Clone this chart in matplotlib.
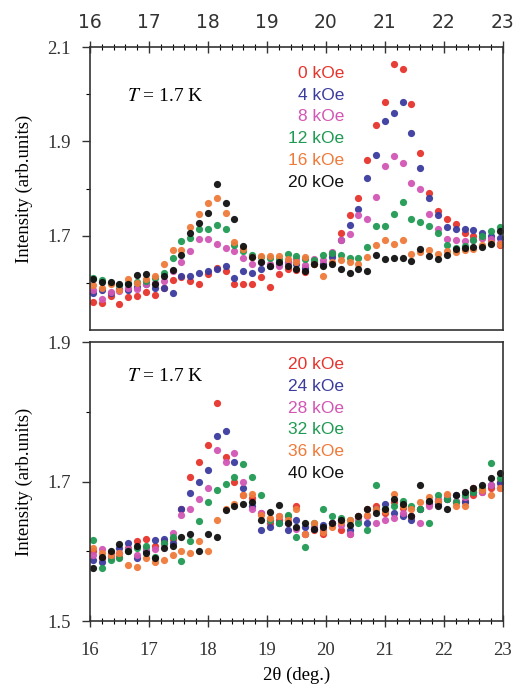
import numpy as np
import matplotlib
matplotlib.use("Agg")
import matplotlib.pyplot as plt
from matplotlib.ticker import MultipleLocator, FixedLocator

plt.rcParams["mathtext.fontset"] = "stix"

# --- data (2theta grid, step 0.15 deg)
two_theta = np.round(16.05 + 0.15 * np.arange(47), 2)

# top panel: 0-20 kOe
top_0 = [1.560, 1.557, 1.572, 1.555, 1.570, 1.572, 1.581, 1.574, 1.590, 1.607,
         1.612, 1.603, 1.597, 1.618, 1.632, 1.625, 1.597, 1.598, 1.598, 1.612,
         1.591, 1.618, 1.630, 1.628, 1.622, 1.640, 1.638, 1.662, 1.705, 1.743,
         1.779, 1.860, 1.934, 1.983, 2.064, 2.053, 1.979, 1.875, 1.790, 1.753,
         1.735, 1.725, 1.705, 1.700, 1.695, 1.690, 1.680]
top_4 = [1.579, 1.585, 1.578, 1.588, 1.585, 1.592, 1.598, 1.590, 1.590, 1.579,
         1.615, 1.615, 1.620, 1.626, 1.630, 1.636, 1.611, 1.626, 1.620, 1.630,
         1.635, 1.640, 1.645, 1.640, 1.632, 1.645, 1.640, 1.655, 1.691, 1.723,
         1.757, 1.823, 1.872, 1.943, 1.960, 1.983, 1.917, 1.843, 1.779, 1.743,
         1.719, 1.715, 1.715, 1.713, 1.705, 1.700, 1.695]
top_8 = [1.585, 1.565, 1.580, 1.582, 1.590, 1.588, 1.597, 1.600, 1.605, 1.626,
         1.645, 1.668, 1.692, 1.693, 1.682, 1.674, 1.668, 1.652, 1.641, 1.645,
         1.640, 1.635, 1.645, 1.650, 1.638, 1.650, 1.648, 1.665, 1.690, 1.704,
         1.744, 1.736, 1.783, 1.848, 1.868, 1.855, 1.812, 1.800, 1.746, 1.715,
         1.694, 1.690, 1.688, 1.690, 1.695, 1.692, 1.685]
top_12 = [1.610, 1.607, 1.600, 1.595, 1.600, 1.602, 1.605, 1.610, 1.620, 1.652,
          1.689, 1.695, 1.714, 1.714, 1.723, 1.714, 1.680, 1.668, 1.660, 1.655,
          1.652, 1.650, 1.661, 1.656, 1.650, 1.648, 1.660, 1.664, 1.660, 1.653,
          1.653, 1.677, 1.721, 1.721, 1.745, 1.772, 1.736, 1.728, 1.720, 1.705,
          1.681, 1.673, 1.678, 1.690, 1.700, 1.711, 1.719]
top_16 = [1.596, 1.590, 1.598, 1.585, 1.609, 1.600, 1.609, 1.615, 1.641, 1.670,
          1.670, 1.718, 1.746, 1.769, 1.779, 1.748, 1.686, 1.671, 1.654, 1.657,
          1.657, 1.657, 1.650, 1.645, 1.655, 1.640, 1.615, 1.645, 1.648, 1.645,
          1.640, 1.655, 1.680, 1.691, 1.683, 1.691, 1.662, 1.665, 1.670, 1.662,
          1.668, 1.665, 1.670, 1.672, 1.680, 1.685, 1.682]
top_20 = [1.608, 1.601, 1.602, 1.597, 1.597, 1.617, 1.618, 1.597, 1.615, 1.627,
          1.659, 1.705, 1.726, 1.748, 1.810, 1.769, 1.735, 1.678, 1.654, 1.645,
          1.636, 1.645, 1.636, 1.630, 1.626, 1.640, 1.636, 1.640, 1.630, 1.621,
          1.630, 1.626, 1.660, 1.651, 1.653, 1.652, 1.647, 1.672, 1.657, 1.651,
          1.660, 1.672, 1.674, 1.676, 1.676, 1.683, 1.711]

# bottom panel: 20-40 kOe
bot_20 = [1.600, 1.590, 1.598, 1.592, 1.605, 1.614, 1.617, 1.608, 1.615, 1.618,
          1.661, 1.706, 1.728, 1.752, 1.813, 1.735, 1.700, 1.681, 1.676, 1.655,
          1.640, 1.645, 1.650, 1.665, 1.625, 1.630, 1.625, 1.640, 1.630, 1.625,
          1.650, 1.660, 1.665, 1.655, 1.670, 1.662, 1.650, 1.660, 1.668, 1.672,
          1.675, 1.670, 1.672, 1.680, 1.685, 1.690, 1.700]
bot_24 = [1.587, 1.585, 1.593, 1.605, 1.612, 1.590, 1.600, 1.616, 1.618, 1.612,
          1.661, 1.684, 1.700, 1.717, 1.765, 1.773, 1.728, 1.690, 1.665, 1.631,
          1.635, 1.640, 1.630, 1.645, 1.635, 1.632, 1.638, 1.640, 1.645, 1.630,
          1.650, 1.640, 1.660, 1.668, 1.655, 1.650, 1.645, 1.660, 1.670, 1.668,
          1.675, 1.680, 1.670, 1.685, 1.688, 1.695, 1.698]
bot_28 = [1.595, 1.603, 1.590, 1.598, 1.603, 1.595, 1.605, 1.603, 1.610, 1.626,
          1.652, 1.660, 1.675, 1.690, 1.745, 1.728, 1.741, 1.700, 1.660, 1.655,
          1.645, 1.650, 1.640, 1.632, 1.625, 1.635, 1.630, 1.640, 1.638, 1.625,
          1.645, 1.650, 1.640, 1.645, 1.648, 1.655, 1.650, 1.640, 1.665, 1.675,
          1.680, 1.672, 1.678, 1.690, 1.685, 1.695, 1.690]
bot_32 = [1.616, 1.576, 1.588, 1.590, 1.600, 1.605, 1.608, 1.592, 1.612, 1.620,
          1.586, 1.615, 1.643, 1.670, 1.688, 1.696, 1.707, 1.725, 1.707, 1.680,
          1.645, 1.640, 1.652, 1.620, 1.606, 1.640, 1.660, 1.650, 1.648, 1.645,
          1.640, 1.630, 1.695, 1.660, 1.665, 1.672, 1.665, 1.660, 1.640, 1.680,
          1.675, 1.670, 1.680, 1.685, 1.690, 1.726, 1.705]
bot_36 = [1.604, 1.598, 1.595, 1.598, 1.581, 1.578, 1.590, 1.585, 1.588, 1.595,
          1.600, 1.597, 1.615, 1.600, 1.645, 1.660, 1.668, 1.680, 1.682, 1.652,
          1.648, 1.650, 1.645, 1.660, 1.625, 1.640, 1.628, 1.635, 1.642, 1.645,
          1.650, 1.652, 1.660, 1.658, 1.682, 1.665, 1.660, 1.670, 1.678, 1.672,
          1.682, 1.665, 1.665, 1.690, 1.688, 1.680, 1.690]
bot_40 = [1.576, 1.592, 1.601, 1.611, 1.600, 1.608, 1.598, 1.590, 1.605, 1.608,
          1.620, 1.625, 1.601, 1.625, 1.620, 1.659, 1.665, 1.668, 1.671, 1.645,
          1.657, 1.667, 1.640, 1.635, 1.640, 1.632, 1.635, 1.640, 1.645, 1.637,
          1.650, 1.660, 1.655, 1.660, 1.675, 1.668, 1.650, 1.695, 1.672, 1.665,
          1.660, 1.680, 1.685, 1.690, 1.695, 1.705, 1.712]

top_labels = ["0 kOe", "4 kOe", "8 kOe", "12 kOe", "16 kOe", "20 kOe"]
bot_labels = ["20 kOe", "24 kOe", "28 kOe", "32 kOe", "36 kOe", "40 kOe"]
colors = ["#e6342c", "#3b3b9e", "#d256b4", "#1f9a52", "#f07a3a", "#111111"]

SERIF = ["Liberation Serif", "DejaVu Serif"]
SANS = ["Liberation Sans", "DejaVu Sans"]

fig = plt.figure(figsize=(5.14, 6.90), dpi=100)
ax_top = fig.add_axes([0.175, 0.5217, 0.8035, 0.4101])
ax_bot = fig.add_axes([0.175, 0.100, 0.8035, 0.4043])

panels = [
    (ax_top, [top_0, top_4, top_8, top_12, top_16, top_20], top_labels,
     (1.5, 2.1), [1.7, 1.9, 2.1], [1.6, 1.8, 2.0], 0.827, 0.908),
    (ax_bot, [bot_20, bot_24, bot_28, bot_32, bot_36, bot_40], bot_labels,
     (1.5, 1.9), [1.5, 1.7, 1.9], [1.6, 1.8], 0.875, 0.918),
]

for ax, series, labels, ylim, yt, ymt, t_y, leg_y in panels:
    for vals, col in zip(series, colors):
        ax.plot(two_theta, vals, "o", ms=5.2, color=col, mec="none", alpha=0.95)
    ax.set_xlim(16, 23)
    ax.set_ylim(*ylim)
    ax.set_yticks(yt)
    ax.yaxis.set_minor_locator(FixedLocator(ymt))
    ax.xaxis.set_major_locator(MultipleLocator(1))
    ax.xaxis.set_minor_locator(MultipleLocator(0.2))
    for sp in ax.spines.values():
        sp.set_color("#333333")
        sp.set_linewidth(1.2)
    ax.tick_params(axis="y", which="major", direction="out", length=6, width=1,
                   right=False, labelsize=13.5, colors="#333333", pad=8)
    ax.tick_params(axis="y", which="minor", direction="out", length=3, width=0.8,
                   right=False)
    ax.tick_params(axis="x", which="major", direction="inout", length=8, width=1,
                   labelsize=13.5, colors="#333333", pad=7)
    ax.tick_params(axis="x", which="minor", direction="inout", length=4, width=0.8)
    for lab in ax.get_xticklabels() + ax.get_yticklabels():
        lab.set_family(SERIF)
    ax.set_ylabel("Intensity (arb.units)", family=SERIF, fontsize=13.5, labelpad=10)
    ax.text(0.09, t_y, r"$T$ = 1.7 K", transform=ax.transAxes, family=SERIF,
            fontsize=14, ha="left", va="center")
    for k, (lab, col) in enumerate(zip(labels, colors)):
        ax.text(0.615, leg_y - 0.0775 * k, lab, transform=ax.transAxes,
                family=SANS, fontsize=12.5, color=col, ha="right", va="center")

ax_top.xaxis.tick_top()
ax_top.tick_params(axis="x", which="both", bottom=False, top=True,
                   labeltop=True, labelbottom=False)
ax_bot.tick_params(axis="x", which="both", top=False, bottom=True)
ax_bot.tick_params(axis="x", which="major", pad=11)
ax_bot.set_xlabel("2\u03b8 (deg.)", family=SERIF, fontsize=13.5, labelpad=6)

fig.savefig("out.png", dpi=100)
